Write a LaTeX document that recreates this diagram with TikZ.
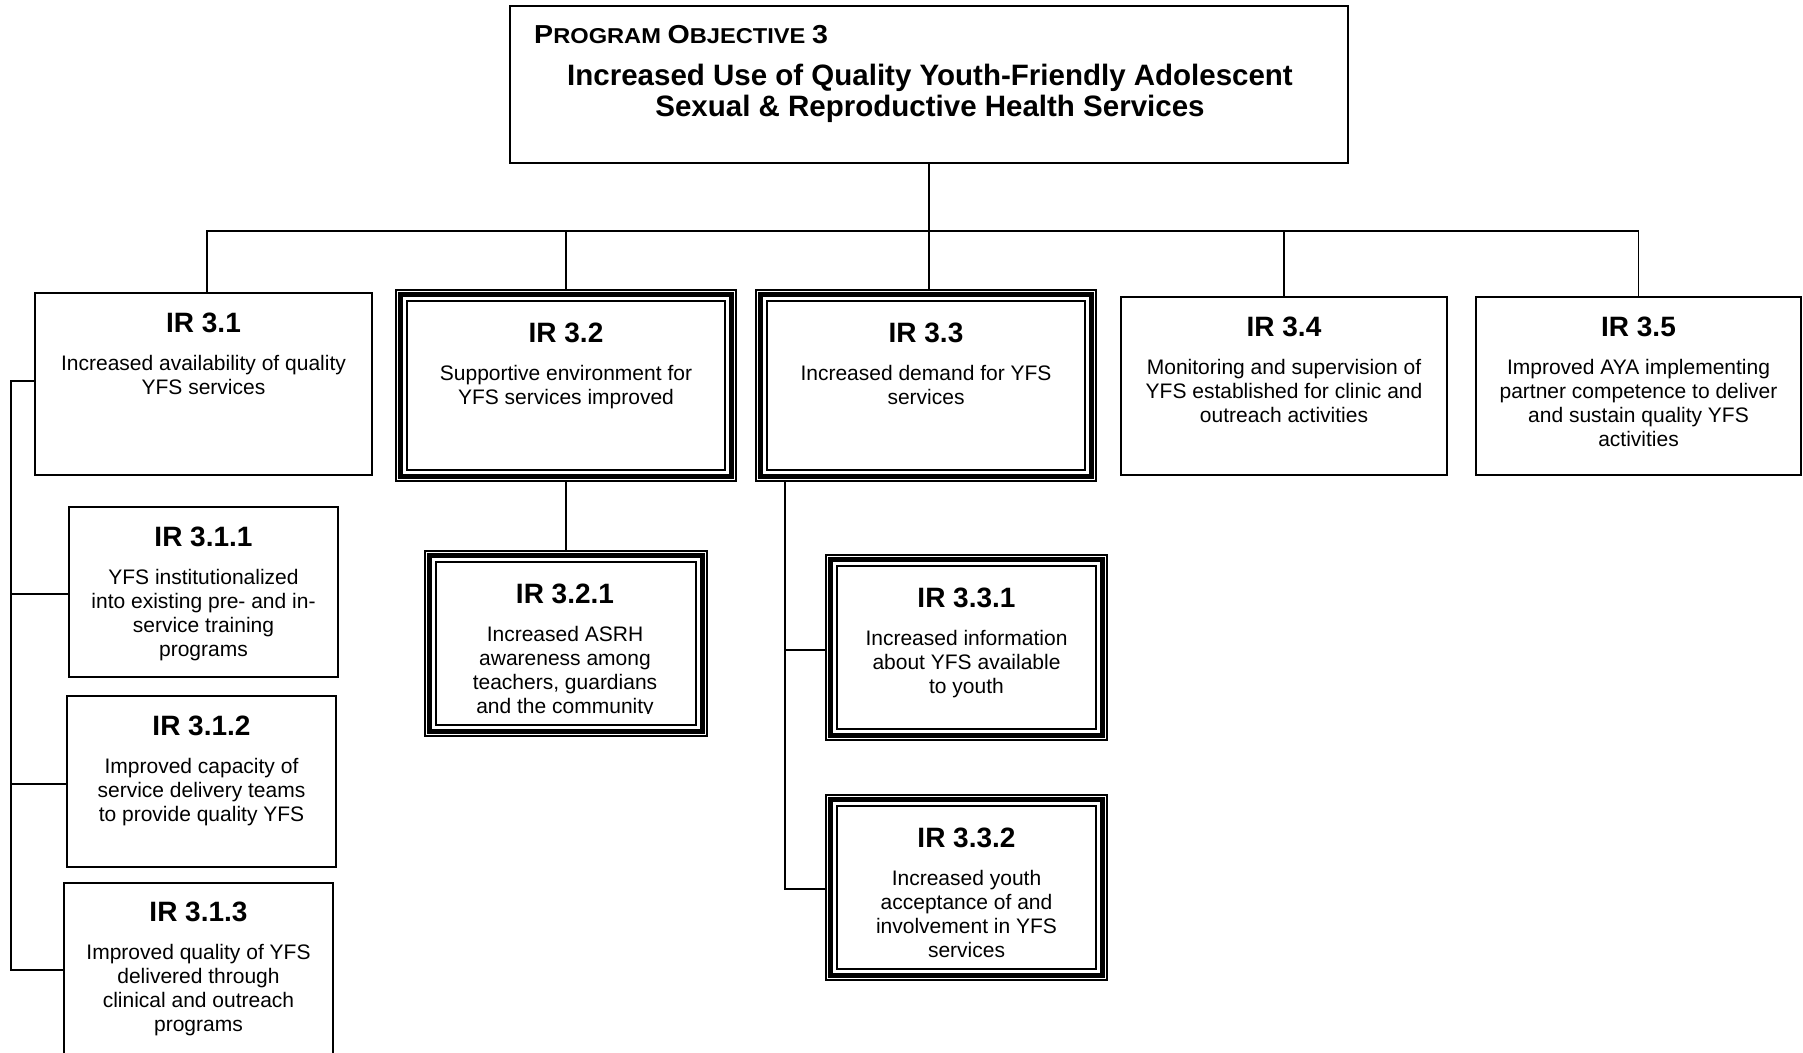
\documentclass[tikz,border=0pt]{standalone}
\usepackage{fontspec}
\usepackage{graphicx}
\setmainfont{Liberation Sans}
\usetikzlibrary{fit}
\tikzset{
  conn/.style={line width=1.8pt},
  pbox/.style={draw, line width=2pt, inner sep=0pt},
  hd/.style={font=\fontsize{28}{30}\selectfont\bfseries, inner sep=0pt, anchor=base},
  bd/.style={font=\fontsize{21}{24}\selectfont, align=center, inner sep=0pt, anchor=north},
}
\newcommand\irtext[5]{%
  \node[hd] (#1h) at (#2,#3) {#4};
  \node[bd, yshift=-21.2pt] (#1b) at (#2,#3) {\strut #5};}
\newcommand\tribox[5]{%
  \node[pbox, fit={(#2,#3) (#4,#5)}] (#1) {};
  \draw[line width=5pt] ([shift={(5.5,5.5)}]#1.north west) rectangle ([shift={(-5.5,-5.5)}]#1.south east);
  \draw[line width=2pt] ([shift={(12,12)}]#1.north west) rectangle ([shift={(-12,-12)}]#1.south east);}
\begin{document}
\begin{tikzpicture}[x=1pt,y=-1pt]
\useasboundingbox (0,0) rectangle (1803,1052);
\clip (0,0) rectangle (1803,1052);

% top box
\node[pbox, fit={(510,6) (1348,163)}] (top) {};
\node[anchor=base west, inner sep=0pt, font=\bfseries] (po) at (534,43)
  {\scalebox{1.1}[1]{\fontsize{26}{26}\selectfont P\fontsize{21.5}{26}\selectfont ROGRAM \fontsize{26}{26}\selectfont O\fontsize{21.5}{26}\selectfont BJECTIVE \fontsize{26}{26}\selectfont 3}};
\node[anchor=north, align=center, inner sep=0pt, font=\bfseries\fontsize{29.5}{28.5}\selectfont] (title) at (930,64)
  {\strut Increased Use of Quality Youth-Friendly Adolescent\\Sexual \& Reproductive Health Services};

% level 1
\node[pbox, fit={(35,293) (372,475)}] (ir31) {};
\irtext{ir31}{203.5}{332}{IR 3.1}{Increased availability of quality\\YFS services}
\tribox{ir32}{396}{290}{736}{481}
\irtext{ir32}{566}{342}{IR 3.2}{Supportive environment for\\YFS services improved}
\tribox{ir33}{756}{290}{1096}{481}
\irtext{ir33}{926}{342}{IR 3.3}{Increased demand for YFS\\services}
\node[pbox, fit={(1121,297) (1447,475)}] (ir34) {};
\irtext{ir34}{1284}{336}{IR 3.4}{Monitoring and supervision of\\YFS established for clinic and\\outreach activities}
\node[pbox, fit={(1476,297) (1801,475)}] (ir35) {};
\irtext{ir35}{1638.5}{336}{IR 3.5}{Improved AYA implementing\\partner competence to deliver\\and sustain quality YFS\\activities}

% IR 3.1 children
\node[pbox, fit={(69,507) (338,677)}] (ir311) {};
\irtext{ir311}{203.5}{546}{IR 3.1.1}{YFS institutionalized\\into existing pre- and in-\\service training\\programs}
\node[pbox, fit={(67,696) (336,867)}] (ir312) {};
\irtext{ir312}{201.5}{735}{IR 3.1.2}{Improved capacity of\\service delivery teams\\to provide quality YFS}
\node[pbox, fit={(64,883) (333,1070)}] (ir313) {};
\irtext{ir313}{198.5}{921}{IR 3.1.3}{Improved quality of YFS\\delivered through\\clinical and outreach\\programs}

% IR 3.2 child
\tribox{ir321}{425}{551}{707}{736}
\begin{scope}
  \clip (430,560) rectangle (700,713.5);
  \irtext{ir321}{565}{603}{IR 3.2.1}{Increased ASRH\\awareness among\\teachers, guardians\\and the community}
\end{scope}

% IR 3.3 children
\tribox{ir331}{826}{555}{1107}{740}
\irtext{ir331}{966.5}{607}{IR 3.3.1}{Increased information\\about YFS available\\to youth}
\tribox{ir332}{826}{795}{1107}{980}
\irtext{ir332}{966.5}{847}{IR 3.3.2}{Increased youth\\acceptance of and\\involvement in YFS\\services}

% connectors
\coordinate (bus) at (929,231);
\coordinate (busL) at (207,231);
\draw[conn] (top.south) -- (top.south |- ir33.north);
\draw[conn] (busL |- ir31.north) -- (busL) -- (ir35.north |- bus) -- (ir35.north);
\foreach \n in {ir32,ir34} \draw[conn] (bus -| \n.north) -- (\n.north);

\coordinate (spa) at (11,381);
\coordinate (spb) at (11,594);
\coordinate (spc) at (11,784);
\coordinate (spd) at (11,970);
\draw[conn] (ir31.west |- spa) -- (spa) -- (spd) -- (spd -| ir313.west);
\draw[conn] (spb) -- (spb -| ir311.west);
\draw[conn] (spc) -- (spc -| ir312.west);

\draw[conn] (ir32.south) -- (ir321.north);

\coordinate (sqa) at (785,650);
\coordinate (sqb) at (785,889);
\draw[conn] (ir33.south -| sqa) -- (sqb) -- (sqb -| ir332.west);
\draw[conn] (sqa) -- (sqa -| ir331.west);
\end{tikzpicture}
\end{document}
